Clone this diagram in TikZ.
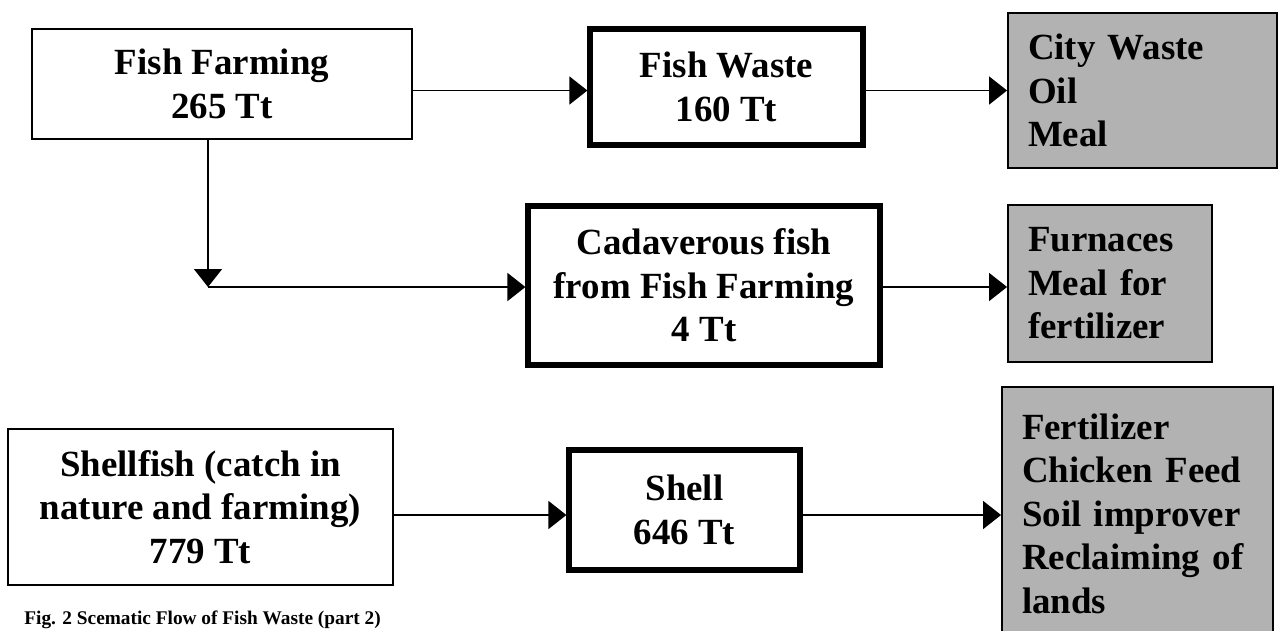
\documentclass[tikz,border=0pt]{standalone}
\usepackage{fontspec}
\setmainfont{Liberation Serif}
\usetikzlibrary{arrows.meta}
\definecolor{boxgray}{RGB}{178,178,178}
\begin{document}
\begin{tikzpicture}[x=0.02cm,y=-0.02cm]
\tikzstyle{block}=[draw,line width=1.1pt,inner sep=0pt,align=center,font=\fontsize{21}{24.75}\selectfont\bfseries]
\tikzstyle{heavy}=[block,line width=3pt]
\tikzstyle{result}=[block,fill=boxgray,align=left,inner xsep=0.4cm]
\tikzstyle{flow}=[line width=0.9pt,-{Triangle[length=0.36cm,width=0.56cm]}]
\useasboundingbox (0,0) rectangle (1280,630);

  % first row
  \node[block,minimum width=7.6cm,minimum height=2.2cm] (farm) at (222,84) {Fish Farming\\265 Tt};
  \node[heavy,minimum width=5.46cm,minimum height=2.32cm] (waste) at (726.5,87) {Fish Waste\\160 Tt};
  \node[result,text width=4.58cm,minimum height=3.1cm] (city) at (1142.5,90.5) {City Waste\\Oil\\Meal};

  % second row
  \node[heavy,minimum width=7.04cm,minimum height=3.18cm] (cad) at (704,285.5) {Cadaverous fish\\from Fish Farming\\4 Tt};
  \node[result,text width=3.28cm,minimum height=3.14cm] (furn) at (1110,283.5) {Furnaces\\Meal for\\fertilizer};
  \coordinate (bend) at (208,287);

  % third row
  \node[block,minimum width=7.7cm,minimum height=3.12cm] (shellfish) at (200.5,507) {Shellfish (catch in\\nature and farming)\\779 Tt};
  \node[heavy,minimum width=4.62cm,minimum height=2.4cm] (shell) at (684.5,510) {Shell\\646 Tt};
  \node[result,text width=4.62cm,minimum height=5.06cm] (uses) at (1137.5,513.5) {Fertilizer\\Chicken Feed\\Soil improver\\Reclaiming of\\lands};

  \node[anchor=base west,inner sep=0pt,font=\fontsize{11}{13}\selectfont\bfseries] (caption) at (24,624) {Fig. 2 Scematic Flow of Fish Waste (part 2)};

  \draw[flow] (farm.east |- city.west) -- (waste.west |- city.west);
  \draw[flow] (waste.east |- city.west) -- (city.west);
  \draw[flow] (farm.south -| bend) -- (bend);
  \draw[line width=0.9pt] (bend) -- (bend -| farm.east);
  \draw[flow] (bend -| farm.east) -- (bend -| cad.west);
  \draw[flow] (cad.east |- bend) -- (bend -| furn.west);
  \draw[flow] (shellfish.east |- 0,515) -- (shell.west |- 0,515);
  \draw[flow] (shell.east |- 0,515) -- (uses.west |- 0,515);

\end{tikzpicture}
\end{document}
